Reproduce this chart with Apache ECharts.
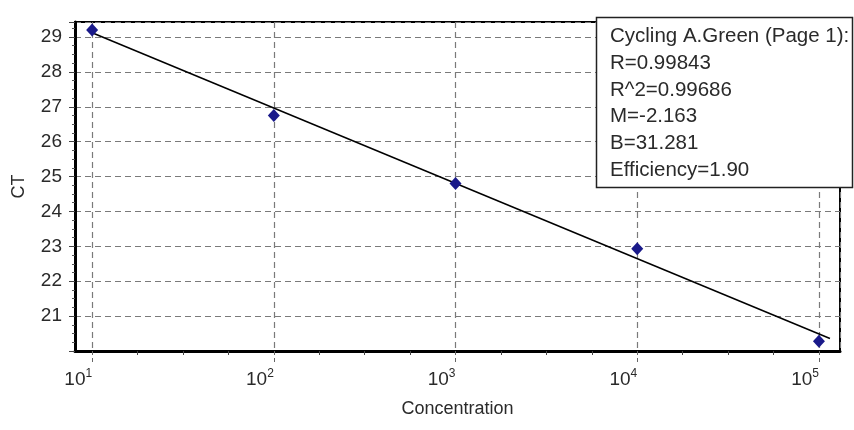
<!DOCTYPE html>
<html>
<head>
<meta charset="utf-8">
<script src="https://cdn.jsdelivr.net/npm/echarts@6/dist/echarts.min.js"></script>
<style>
html,body{margin:0;padding:0;background:#fff;}
#c{width:854px;height:430px;}
</style>
</head>
<body>
<div id="c"></div>
<script>
// Data
const concentrations = [10, 100, 1000, 10000, 100000];
const ctValues = [29.2, 26.75, 24.8, 22.93, 20.28];
// Regression line endpoints (concentration, CT) as drawn
const fitLineX = [10, 115000];
const fitLineY = [29.12, 20.36];
const yTicks = [21, 22, 23, 24, 25, 26, 27, 28, 29];
const xMinorExponents = [1.25, 1.5, 1.75, 2.25, 2.5, 2.75, 3.25, 3.5, 3.75, 4.25, 4.5, 4.75];
const statsLines = [
  'Cycling A.Green (Page 1):',
  'R=0.99843',
  'R^2=0.99686',
  'M=-2.163',
  'B=31.281',
  'Efficiency=1.90'
];

const FONT = 'Liberation Sans';
const TXT = '#2a2a2a';
const X_MIN = 8.05, X_MAX = 130600;
const chart = echarts.init(document.getElementById('c'), null, {renderer: 'canvas'});

const pts = concentrations.map((c, i) => [c, ctValues[i]]);
const fit = fitLineX.map((c, i) => [c, fitLineY[i]]);

const statTexts = statsLines.map((t, i) => ({
  type: 'text',
  left: 610,
  top: 26 + i * 26.7,
  z: 101,
  style: {text: t, font: '20.5px "' + FONT + '"', fill: TXT}
}));

const grid = {left: 75, top: 22, width: 765, height: 329, show: true, borderColor: '#000', borderWidth: 2, backgroundColor: 'transparent'};

chart.setOption({
  animation: false,
  backgroundColor: '#fff',
  grid: grid,
  xAxis: [{
    type: 'log',
    logBase: 10,
    min: X_MIN,
    max: X_MAX,
    name: 'Concentration',
    nameLocation: 'middle',
    nameGap: 49,
    nameTextStyle: {fontFamily: FONT, fontSize: 18, color: TXT},
    axisLine: {show: true, onZero: false, lineStyle: {color: '#000', width: 3}},
    axisTick: {show: true, inside: false, length: 12, lineStyle: {color: '#666', type: [4, 3]}},
    splitLine: {show: true, lineStyle: {color: '#7a7a7a', type: [6, 4], width: 1.2}},
    axisLabel: {
      showMinLabel: false, showMaxLabel: false,
      margin: 17,
      align: 'right',
      fontFamily: FONT, fontSize: 19, color: TXT,
      formatter: function (v) {
        const e = Math.round(Math.log10(v));
        if (Math.abs(Math.log10(v) - e) > 1e-6) return '';
        return '{b|10}{s|' + e + '}';
      },
      rich: {
        b: {fontFamily: FONT, fontSize: 19, color: TXT},
        s: {fontFamily: FONT, fontSize: 12, color: TXT, verticalAlign: 'top', padding: [0, 0, 12, 0]}
      }
    }
  }, {
    type: 'value',
    min: Math.log10(X_MIN),
    max: Math.log10(X_MAX),
    position: 'bottom',
    axisLine: {show: false},
    splitLine: {show: false},
    axisLabel: {show: false},
    axisTick: {show: true, length: 4, customValues: xMinorExponents, lineStyle: {color: '#444', width: 1}}
  }],
  yAxis: {
    type: 'value',
    min: 20,
    max: 29.43,
    interval: 1,
    name: 'CT',
    nameLocation: 'middle',
    nameGap: 47,
    nameRotate: 90,
    nameTextStyle: {fontFamily: FONT, fontSize: 18, color: TXT},
    axisLine: {show: true, lineStyle: {color: '#000', width: 3}},
    axisTick: {show: true, length: 6, lineStyle: {color: '#444'}},
    minorTick: {show: true, splitNumber: 4, length: 3, lineStyle: {color: '#555'}},
    splitLine: {show: true, lineStyle: {color: '#7a7a7a', type: [6, 4], width: 1.2}},
    axisLabel: {
      margin: 13, fontFamily: FONT, fontSize: 19, color: TXT,
      formatter: function (v) { return yTicks.indexOf(Math.round(v)) >= 0 ? String(Math.round(v)) : ''; }
    }
  },
  series: [
    {
      type: 'line',
      xAxisIndex: 0,
      data: fit,
      symbol: 'none',
      lineStyle: {color: '#000', width: 1.5},
      z: 2
    },
    {
      type: 'scatter',
      xAxisIndex: 0,
      data: pts,
      symbol: 'diamond',
      symbolSize: [12, 13],
      itemStyle: {color: '#1a1a8a', opacity: 1},
      z: 3
    }
  ],
  graphic: [
    {
      type: 'rect',
      shape: {x: 596.5, y: 17.5, width: 256, height: 170},
      style: {fill: '#fff', stroke: '#222', lineWidth: 1.5},
      z: 100
    }
  ].concat(statTexts)
});
</script>
</body>
</html>
